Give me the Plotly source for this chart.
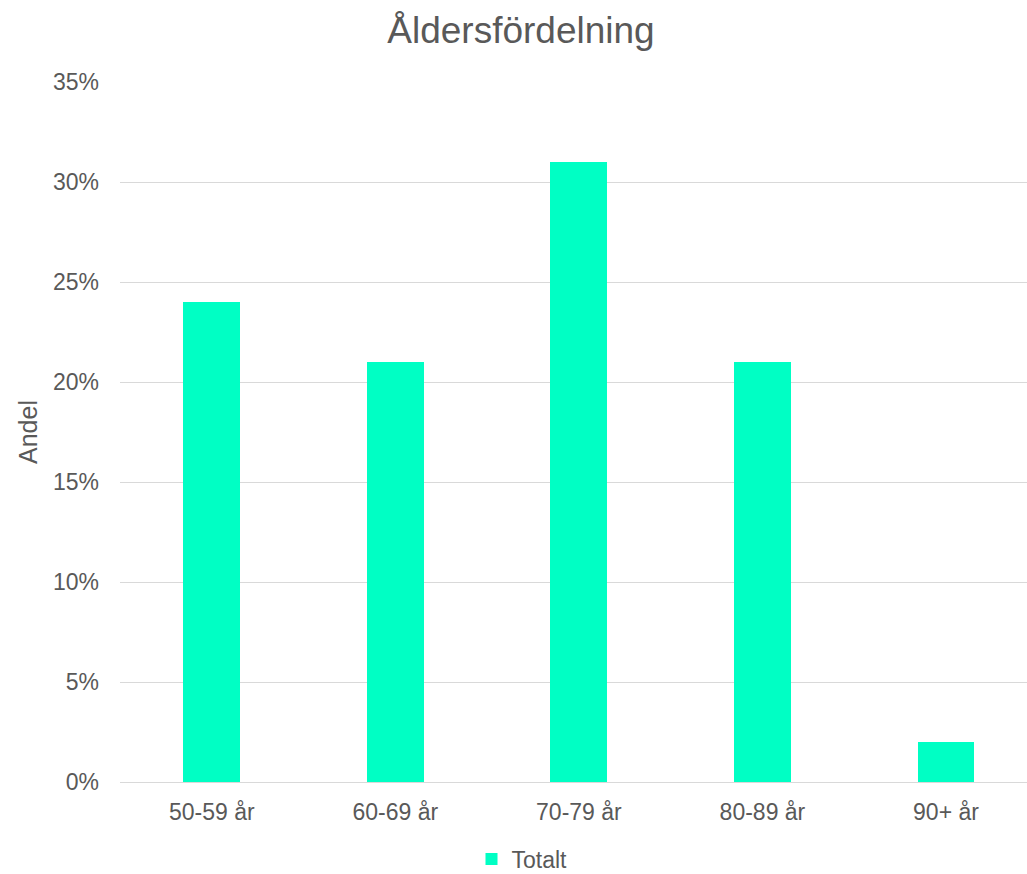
import plotly.graph_objects as go

categories = ["50-59 år", "60-69 år", "70-79 år", "80-89 år", "90+ år"]
values = [0.24, 0.21, 0.31, 0.21, 0.02]
series_name = "Totalt"
title_text = "Åldersfördelning"
y_title = "Andel"

TEXT = "#595959"
GRID = "#D9D9D9"
BAR = "#00FFC4"
FONT = "Liberation Sans, Arial, sans-serif"

W, H = 1027, 874
L, R, T, B = 120, 0, 82, 92
plot_w = W - L - R

fig = go.Figure()
fig.add_trace(go.Bar(
    x=list(range(len(categories))), y=values, name=series_name,
    marker=dict(color=BAR, line=dict(width=0)), width=0.31,
))

fig.update_layout(
    width=W, height=H,
    margin=dict(l=L, r=R, t=T, b=B, autoexpand=False),
    paper_bgcolor="white", plot_bgcolor="white",
    font=dict(family=FONT, color=TEXT, size=23),
    title=dict(text=title_text, font=dict(size=37, color=TEXT, family=FONT),
               x=521 / W, xref="container", xanchor="center",
               y=1 - 30 / H, yref="container", yanchor="middle"),
    showlegend=True,
    legend=dict(orientation="h", x=(522 - L) / plot_w, xanchor="center",
                y=1 - 859 / H, yref="container", yanchor="middle",
                font=dict(size=23, color=TEXT, family=FONT),
                bgcolor="rgba(0,0,0,0)"),
    bargap=0,
)

fig.update_xaxes(
    tickmode="array", tickvals=list(range(len(categories))), ticktext=categories,
    range=[-0.5, -0.5 + plot_w / 183.55],
    showgrid=False, zeroline=False, showline=False, ticks="",
    ticklabelstandoff=14,
    tickfont=dict(size=23, color=TEXT, family=FONT),
)
fig.update_yaxes(
    range=[0, 0.35], dtick=0.05, tickformat=".0%",
    showgrid=True, gridcolor=GRID, gridwidth=1,
    zeroline=True, zerolinecolor=GRID, zerolinewidth=1,
    showline=False, ticks="", ticklabelstandoff=20,
    tickfont=dict(size=23, color=TEXT, family=FONT),
)

fig.add_annotation(
    text=y_title, xref="paper", yref="paper",
    x=(28 - L) / plot_w, y=0.5, xanchor="center", yanchor="middle",
    textangle=-90, showarrow=False,
    font=dict(size=25, color=TEXT, family=FONT),
)

fig.write_html("out.html")
